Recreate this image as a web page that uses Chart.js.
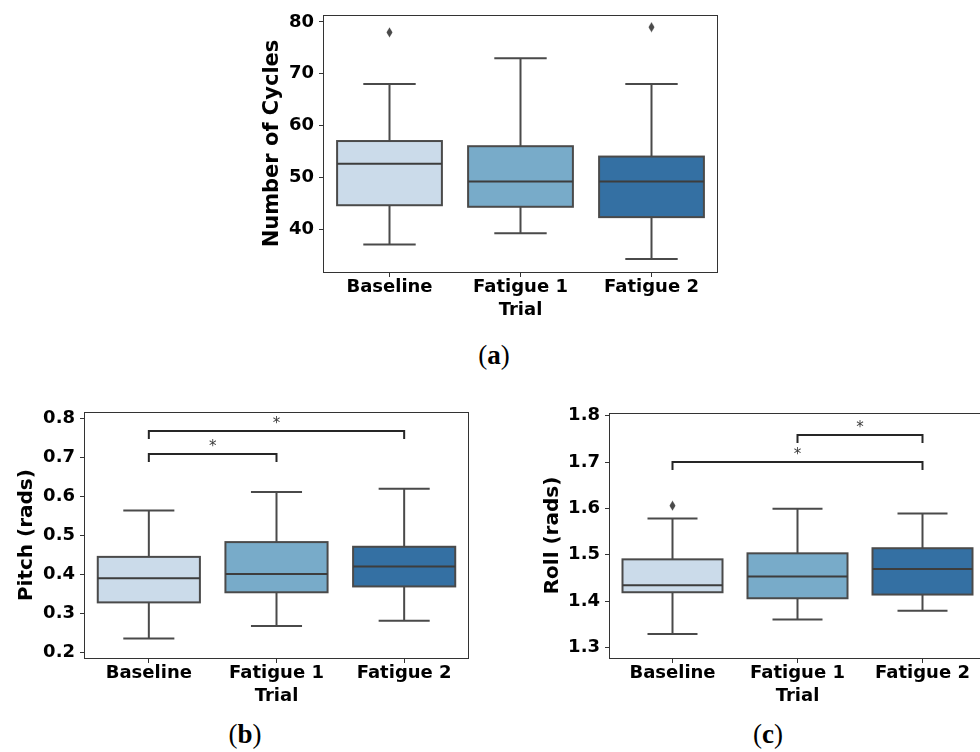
<!DOCTYPE html>
<html lang="en">
  <head>
    <meta charset="utf-8" />
    <title>Cycles, pitch and roll by trial</title>
    <style>
      * {
        margin: 0;
        padding: 0;
      }
      body {
        width: 980px;
        height: 752px;
        background: #fff;
        overflow: hidden;
        position: relative;
      }
      canvas {
        position: absolute;
      }
      .panel {
        position: absolute;
        font-family: "Liberation Serif", serif;
        font-size: 27px;
        line-height: 1;
        color: #000;
        transform: translate(-50%, -50%);
        white-space: nowrap;
      }
    </style>
  </head>
  <body>
    <canvas id="chartA" width="480" height="321" style="left: 260px; top: 0px"></canvas>
    <canvas id="chartB" width="465" height="307" style="left: 15px; top: 400px"></canvas>
    <canvas id="chartC" width="460" height="307" style="left: 541px; top: 400px"></canvas>

    <div class="panel" style="left: 494px; top: 355px">(<b>a</b>)</div>
    <div class="panel" style="left: 245px; top: 734px">(<b>b</b>)</div>
    <div class="panel" style="left: 768px; top: 734px">(<b>c</b>)</div>

    <script src="https://cdn.jsdelivr.net/npm/chart.js@4.4.1/dist/chart.umd.min.js"></script>

    <script>
      // data block
      const trials = ["Baseline", "Fatigue 1", "Fatigue 2"];

      const cyclesLow = [37.0, 39.2, 34.2];
      const cyclesQ1 = [44.6, 44.3, 42.3];
      const cyclesMedian = [52.6, 49.2, 49.2];
      const cyclesQ3 = [57.0, 56.0, 54.0];
      const cyclesHigh = [68.0, 73.0, 68.0];
      const cyclesOutliers = [78, null, 79];
      const cyclesTicks = [40, 50, 60, 70, 80];

      const pitchLow = [0.235, 0.267, 0.281];
      const pitchQ1 = [0.328, 0.354, 0.369];
      const pitchMedian = [0.39, 0.401, 0.42];
      const pitchQ3 = [0.445, 0.483, 0.471];
      const pitchHigh = [0.564, 0.612, 0.62];
      const pitchOutliers = [null, null, null];
      const pitchTicks = [0.2, 0.3, 0.4, 0.5, 0.6, 0.7, 0.8];
      // [from, to, level]
      const pitchBrackets = [
        [0, 1, 0.71],
        [0, 2, 0.768],
      ];

      const rollLow = [1.329, 1.36, 1.379];
      const rollQ1 = [1.419, 1.406, 1.414];
      const rollMedian = [1.434, 1.453, 1.469];
      const rollQ3 = [1.49, 1.503, 1.514];
      const rollHigh = [1.578, 1.599, 1.589];
      const rollOutliers = [1.606, null, null];
      const rollTicks = [1.3, 1.4, 1.5, 1.6, 1.7, 1.8];
      const rollBrackets = [
        [1, 2, 1.758],
        [0, 2, 1.7],
      ];

      const boxColors = ["#cbdbea", "#78abc9", "#3470a3"];
      const lineColor = "#4a4a4a";

      // thin diamond marker for outliers
      const diamond = document.createElement("canvas");
      diamond.width = 7;
      diamond.height = 11;
      (() => {
        const c = diamond.getContext("2d");
        c.fillStyle = lineColor;
        c.beginPath();
        c.moveTo(3.5, 0.5);
        c.lineTo(6.5, 5.5);
        c.lineTo(3.5, 10.5);
        c.lineTo(0.5, 5.5);
        c.closePath();
        c.fill();
      })();

      // boxes, whiskers, caps, medians
      const boxPlot = {
        id: "boxPlot",
        afterDatasetsDraw(chart) {
          const { ctx } = chart;
          const y = chart.scales.y;
          const ds = chart.data.datasets[0];
          const meta = chart.getDatasetMeta(0);
          ctx.save();
          ctx.lineWidth = 2;
          meta.data.forEach((bar, i) => {
            const cx = bar.x;
            const half = bar.width / 2;
            const cap = bar.width / 4;
            const pLow = y.getPixelForValue(ds.low[i]);
            const pHigh = y.getPixelForValue(ds.high[i]);
            const pQ1 = y.getPixelForValue(ds.data[i][0]);
            const pQ3 = y.getPixelForValue(ds.data[i][1]);
            const pMed = y.getPixelForValue(ds.median[i]);
            ctx.strokeStyle = lineColor;
            ctx.beginPath();
            ctx.moveTo(cx, pLow);
            ctx.lineTo(cx, pQ1);
            ctx.moveTo(cx, pQ3);
            ctx.lineTo(cx, pHigh);
            ctx.moveTo(cx - cap, pLow);
            ctx.lineTo(cx + cap, pLow);
            ctx.moveTo(cx - cap, pHigh);
            ctx.lineTo(cx + cap, pHigh);
            ctx.stroke();
            ctx.strokeRect(cx - half, pQ3, half * 2, pQ1 - pQ3);
            ctx.strokeStyle = "#3d3d3d";
            ctx.beginPath();
            ctx.moveTo(cx - half, pMed);
            ctx.lineTo(cx + half, pMed);
            ctx.stroke();
          });
          ctx.restore();
        },
      };

      // significance brackets with stars
      const sigBrackets = {
        id: "sigBrackets",
        afterDatasetsDraw(chart) {
          const { ctx } = chart;
          const { x, y } = chart.scales;
          const items = chart.data.datasets[0].brackets || [];
          ctx.save();
          ctx.strokeStyle = "#262626";
          ctx.lineWidth = 2;
          items.forEach(([from, to, level]) => {
            const x1 = x.getPixelForValue(from);
            const x2 = x.getPixelForValue(to);
            const py = Math.round(y.getPixelForValue(level));
            ctx.beginPath();
            ctx.moveTo(x1, py + 8);
            ctx.lineTo(x1, py);
            ctx.lineTo(x2, py);
            ctx.lineTo(x2, py + 8);
            ctx.stroke();
            ctx.fillStyle = "#3a3a3a";
            ctx.font = "15px 'DejaVu Sans'";
            ctx.textAlign = "center";
            ctx.textBaseline = "middle";
            ctx.fillText("*", (x1 + x2) / 2, py - 7);
          });
          ctx.restore();
        },
      };

      // full frame around the axes
      const frame = {
        id: "frame",
        afterDraw(chart) {
          const { ctx, chartArea: a } = chart;
          ctx.save();
          ctx.strokeStyle = "#333";
          ctx.lineWidth = 1;
          ctx.strokeRect(
            Math.round(a.left) - 0.5,
            Math.round(a.top) + 0.5,
            Math.round(a.right - a.left) + 1,
            Math.round(a.bottom - a.top)
          );
          ctx.restore();
        },
      };

      function makeBoxChart(id, opt) {
        const data = {
          labels: trials,
          datasets: [
            {
              type: "bar",
              data: opt.q1.map((v, i) => [v, opt.q3[i]]),
              low: opt.low,
              high: opt.high,
              median: opt.median,
              brackets: opt.brackets,
              backgroundColor: boxColors,
              borderWidth: 0,
              barPercentage: 0.8,
              categoryPercentage: 1.0,
            },
            {
              type: "line",
              data: opt.outliers,
              showLine: false,
              pointStyle: diamond,
            },
          ],
        };

        const config = {
          type: "bar",
          data: data,
          options: {
            responsive: false,
            animation: false,
            devicePixelRatio: 1,
            layout: {
              padding: { top: opt.padTop, right: opt.padRight, left: 0, bottom: 0 },
            },
            plugins: {
              legend: { display: false },
              tooltip: { enabled: false },
            },
            scales: {
              x: {
                offset: true,
                border: { display: false },
                grid: {
                  offset: false,
                  drawOnChartArea: false,
                  drawTicks: true,
                  tickLength: 5,
                  color: "#333",
                },
                ticks: {
                  padding: 0,
                  color: "#000",
                  font: { family: "'DejaVu Sans'", size: 18, weight: "bold" },
                },
                title: {
                  display: true,
                  text: "Trial",
                  color: "#000",
                  padding: 0,
                  font: { family: "'DejaVu Sans'", size: 18, weight: "bold" },
                },
                afterFit(scale) {
                  scale.height = 49;
                },
              },
              y: {
                min: opt.min,
                max: opt.max,
                border: { display: false },
                grid: {
                  drawOnChartArea: false,
                  drawTicks: true,
                  tickLength: 5,
                  color: "#333",
                },
                ticks: {
                  padding: 5,
                  color: "#000",
                  font: { family: "'DejaVu Sans'", size: 18, weight: "bold", lineHeight: 0.8 },
                  callback: (v) => v.toFixed(opt.decimals),
                },
                title: {
                  display: true,
                  text: opt.title,
                  color: "#000",
                  padding: 0,
                  font: { family: "'DejaVu Sans'", size: opt.titleSize, weight: "bold" },
                },
                afterBuildTicks(scale) {
                  scale.ticks = opt.ticks.map((v) => ({ value: v }));
                },
                afterFit(scale) {
                  scale.width = opt.yWidth;
                },
              },
            },
          },
          plugins: [boxPlot, sigBrackets, frame],
        };

        return new Chart(document.getElementById(id), config);
      }

      // init render block
      makeBoxChart("chartA", {
        low: cyclesLow,
        q1: cyclesQ1,
        median: cyclesMedian,
        q3: cyclesQ3,
        high: cyclesHigh,
        outliers: cyclesOutliers,
        ticks: cyclesTicks,
        brackets: [],
        title: "Number of Cycles",
        titleSize: 21,
        min: 31.7,
        max: 81.35,
        decimals: 0,
        yWidth: 64,
        padTop: 15,
        padRight: 23,
      });

      makeBoxChart("chartB", {
        low: pitchLow,
        q1: pitchQ1,
        median: pitchMedian,
        q3: pitchQ3,
        high: pitchHigh,
        outliers: pitchOutliers,
        ticks: pitchTicks,
        brackets: pitchBrackets,
        title: "Pitch (rads)",
        titleSize: 20,
        min: 0.185,
        max: 0.817,
        decimals: 1,
        yWidth: 70,
        padTop: 9,
        padRight: 12,
      });

      makeBoxChart("chartC", {
        low: rollLow,
        q1: rollQ1,
        median: rollMedian,
        q3: rollQ3,
        high: rollHigh,
        outliers: rollOutliers,
        ticks: rollTicks,
        brackets: rollBrackets,
        title: "Roll (rads)",
        titleSize: 20,
        min: 1.277,
        max: 1.806,
        decimals: 1,
        yWidth: 69,
        padTop: 13,
        padRight: 16,
      });
    </script>
  </body>
</html>
